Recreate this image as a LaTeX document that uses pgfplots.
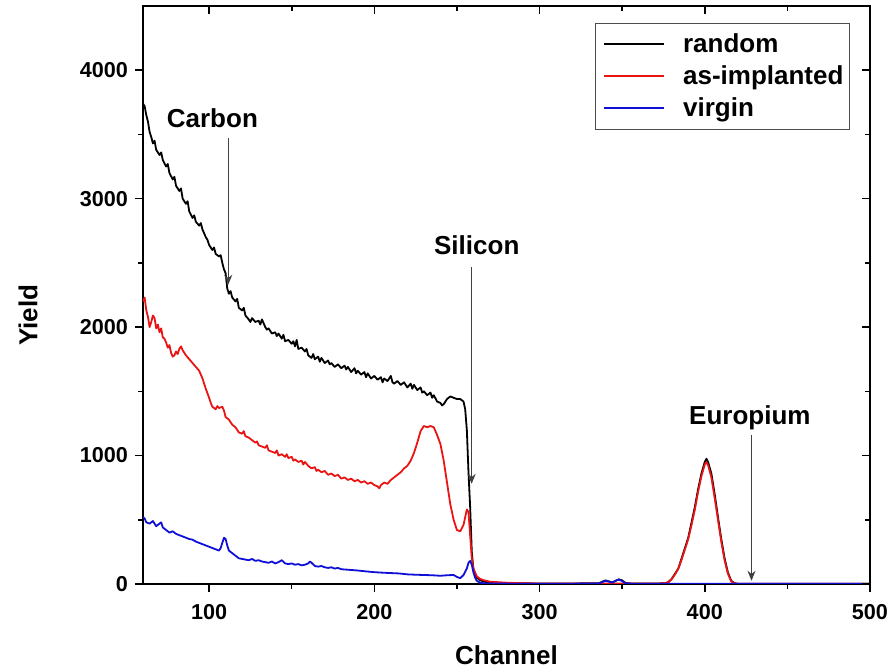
\documentclass[border=0pt]{standalone}
\usepackage{fontspec}
\setmainfont{Liberation Sans}
\usepackage{pgfplots}
\pgfplotsset{compat=1.18}
\usetikzlibrary{arrows.meta}
\definecolor{cblue}{RGB}{15,15,215}
\definecolor{cred}{RGB}{235,20,20}
\pgfplotsset{
  common/.style={
    at={(0pt,0pt)}, anchor=south west,
    scale only axis, width=363.5pt, height=289pt,
    xmin=60, xmax=500, ymin=0, ymax=4500,
    xtick={100,200,300,400,500}, ytick={0,1000,2000,3000,4000},
    minor x tick num=1, minor y tick num=1,
    major tick length=4pt, minor tick length=2.5pt,
    every tick/.style={black, line width=0.8pt},
    axis line style={line width=0.9pt},
  }
}
\begin{document}
\begin{tikzpicture}
\useasboundingbox (-71.5pt,-44pt) rectangle (374pt,292pt);
\begin{axis}[common,
  xtick pos=left, ytick pos=left, tick align=outside,
  /pgf/number format/assume math mode=true,
  /pgf/number format/set thousands separator={},
  tick label style={font=\fontsize{10.8}{12}\selectfont\bfseries},
  xticklabel style={yshift=-2.5pt},
  xlabel={Channel}, ylabel={Yield},
  label style={font=\fontsize{13}{15}\selectfont\bfseries},
  xlabel style={at={(axis description cs:0.5,-0.124)}, anchor=center},
  ylabel style={at={(axis description cs:-0.158,0.465)}, anchor=center},
  legend style={at={(0.9725,0.9706)}, anchor=north east, draw=black!70, line width=0.5pt,
    font=\fontsize{13}{15}\selectfont\bfseries, inner xsep=1pt, inner ysep=3pt,
    row sep=1pt, nodes={inner sep=2pt}},
  legend cell align=left,
  legend image code/.code={\path (-3pt,0pt) (37pt,0pt); \draw[#1, line width=1pt] (0pt,0pt) -- (30pt,0pt);},
  every axis plot/.append style={line width=0.9pt, line join=round},
]
\addplot[black] coordinates {
(60,3740)(61,3720)(62,3650)(63,3600)(64,3520)(65,3480)(66,3430)(67,3450)(68,3380)(70,3340)
(71,3360)(72,3300)(74,3250)(75,3270)(76,3200)(78,3150)(79,3170)(80,3100)(82,3060)(83,3080)
(84,3000)(86,2960)(87,2980)(88,2900)(90,2850)(91,2870)(92,2820)(94,2790)(95,2810)(96,2760)
(98,2700)(99,2680)(100,2640)(102,2600)(103,2620)(104,2570)(106,2550)(107,2560)(108,2500)
(109,2450)(110,2420)(111,2300)(112,2260)(113,2280)(114,2230)(116,2200)(117,2220)(118,2150)
(120,2130)(121,2150)(122,2090)(124,2060)(125,2040)(126,2070)(128,2040)(130,2050)(131,2020)
(132,2060)(134,2000)(135,1980)(136,1990)(138,1950)(140,1960)(141,1930)(142,1950)(144,1910)
(145,1940)(146,1890)(148,1900)(150,1870)(151,1890)(152,1850)(153,1900)(154,1830)(156,1840)
(158,1810)(159,1830)(160,1780)(162,1760)(163,1790)(164,1750)(166,1770)(167,1730)(168,1760)
(170,1720)(172,1740)(173,1710)(174,1720)(176,1690)(178,1710)(180,1680)(182,1700)(183,1670)
(184,1690)(186,1650)(188,1680)(189,1640)(190,1660)(192,1630)(194,1650)(195,1610)(196,1640)
(198,1600)(200,1620)(202,1590)(204,1610)(205,1570)(206,1600)(208,1580)(210,1620)(211,1570)
(212,1560)(214,1580)(216,1550)(218,1570)(220,1530)(222,1560)(223,1520)(224,1550)(226,1510)
(228,1530)(229,1490)(230,1500)(232,1470)(234,1490)(235,1450)(236,1470)(238,1420)(240,1410)
(241,1390)(242,1400)(244,1440)(246,1460)(248,1450)(250,1440)(252,1440)(254,1420)(255,1360)
(256,1200)(257,870)(258,600)(259,250)(260,110)(261,70)(262,50)(264,30)(266,20)(268,14)
(270,10)(280,6)(300,4)(320,4)(336,6)(338,18)(340,28)(342,20)(344,12)(346,24)(348,36)
(350,28)(352,8)(356,3)(370,3)(376,6)(378,15)(380,40)(382,80)(384,120)(386,200)(388,280)
(390,360)(392,480)(394,600)(396,740)(398,860)(400,950)(401,975)(402,950)(404,860)(406,700)
(408,520)(410,350)(412,200)(414,90)(416,25)(418,6)(420,2)(440,1)(500,1)
};
\addlegendentry{random}
\addplot[cred] coordinates {
(60,2200)(61,2230)(62,2130)(63,2080)(64,2000)(65,2040)(66,2090)(67,2070)(68,1990)(69,2020)
(70,1960)(71,1990)(72,1920)(73,1910)(74,1880)(75,1840)(76,1860)(77,1800)(78,1770)(79,1780)
(80,1810)(81,1790)(82,1830)(83,1850)(84,1820)(85,1800)(86,1780)(88,1750)(90,1720)(92,1690)
(94,1660)(96,1600)(98,1520)(100,1450)(101,1410)(102,1380)(104,1360)(105,1385)(106,1370)
(108,1380)(109,1350)(110,1300)(112,1280)(114,1240)(116,1220)(118,1180)(120,1170)(121,1190)
(122,1150)(124,1140)(126,1120)(128,1100)(129,1110)(130,1080)(132,1070)(134,1060)(135,1080)
(136,1040)(138,1030)(140,1020)(141,1040)(142,1000)(144,1010)(146,990)(147,1010)(148,980)
(150,990)(151,960)(152,970)(154,950)(156,960)(157,930)(158,950)(160,920)(162,900)(164,910)
(165,880)(166,890)(168,870)(170,880)(172,850)(174,860)(176,840)(178,850)(180,820)(182,830)
(184,810)(186,820)(188,800)(190,810)(192,790)(194,800)(196,780)(198,790)(200,770)(202,760)
(203,745)(204,770)(206,790)(208,780)(210,810)(212,830)(214,850)(216,870)(218,900)(220,920)
(222,960)(224,1020)(226,1100)(228,1190)(230,1230)(232,1220)(234,1230)(236,1220)(238,1160)
(240,1090)(242,960)(244,790)(246,620)(248,500)(250,420)(252,410)(254,460)(256,580)(257,560)
(258,380)(259,200)(260,120)(262,60)(264,40)(266,30)(270,18)(280,10)(290,6)(300,4)(320,3)
(340,3)(350,3)(370,3)(376,6)(378,15)(380,38)(382,75)(384,120)(386,190)(388,270)(390,350)
(392,460)(394,580)(396,720)(398,840)(400,930)(401,950)(402,925)(404,830)(406,670)(408,500)
(410,330)(412,185)(414,80)(416,20)(418,5)(420,2)(440,1)(500,1)
};
\addlegendentry{as-implanted}
\addplot[cblue] coordinates {
(60,520)(61,510)(62,480)(64,470)(66,490)(68,450)(70,470)(71,480)(72,440)(74,420)(76,400)
(78,410)(80,390)(82,380)(84,370)(86,360)(88,350)(90,345)(92,330)(94,320)(96,310)(98,300)
(100,290)(102,280)(104,270)(106,260)(107,280)(108,320)(109,360)(110,350)(111,300)(112,260)
(114,240)(116,220)(118,200)(120,195)(122,190)(124,185)(126,195)(128,180)(130,185)(132,175)
(134,170)(136,165)(138,175)(140,160)(142,170)(144,185)(146,160)(148,155)(150,160)(152,150)
(154,155)(156,145)(158,150)(160,160)(161,175)(162,165)(164,140)(166,135)(168,140)(170,130)
(172,125)(174,130)(176,120)(178,125)(180,115)(185,110)(190,105)(195,98)(200,92)(205,88)
(210,85)(215,82)(220,75)(225,72)(230,70)(235,68)(240,64)(244,68)(248,70)(250,55)(252,45)
(254,70)(256,120)(257,165)(258,180)(259,150)(260,90)(261,50)(262,25)(264,10)(268,3)(300,2)
(336,3)(338,15)(340,25)(342,18)(344,10)(346,25)(348,35)(350,22)(352,5)(356,2)(500,2)
};
\addlegendentry{virgin}
% annotations
\node[font=\fontsize{13}{15}\selectfont\bfseries] at (axis cs:102,3626) {Carbon};
\draw[black!75, line width=0.5pt, -{Stealth[length=5pt,width=4pt]}] (axis cs:111.6,3470) -- (axis cs:111.6,2330);
\node[font=\fontsize{13}{15}\selectfont\bfseries] at (axis cs:262,2638) {Silicon};
\draw[black!75, line width=0.5pt, -{Stealth[length=5pt,width=4pt]}] (axis cs:258.9,2467) -- (axis cs:258.9,780);
\node[font=\fontsize{13}{15}\selectfont\bfseries] at (axis cs:427.3,1292) {Europium};
\draw[black!75, line width=0.5pt, -{Stealth[length=5pt,width=4pt]}] (axis cs:428.3,1160) -- (axis cs:428.3,25);
\end{axis}
\begin{axis}[common,
  xtick pos=right, ytick pos=right, tick align=inside,
  xticklabels={}, yticklabels={},
  axis line style={draw=none},
]
\end{axis}
\end{tikzpicture}
\end{document}
